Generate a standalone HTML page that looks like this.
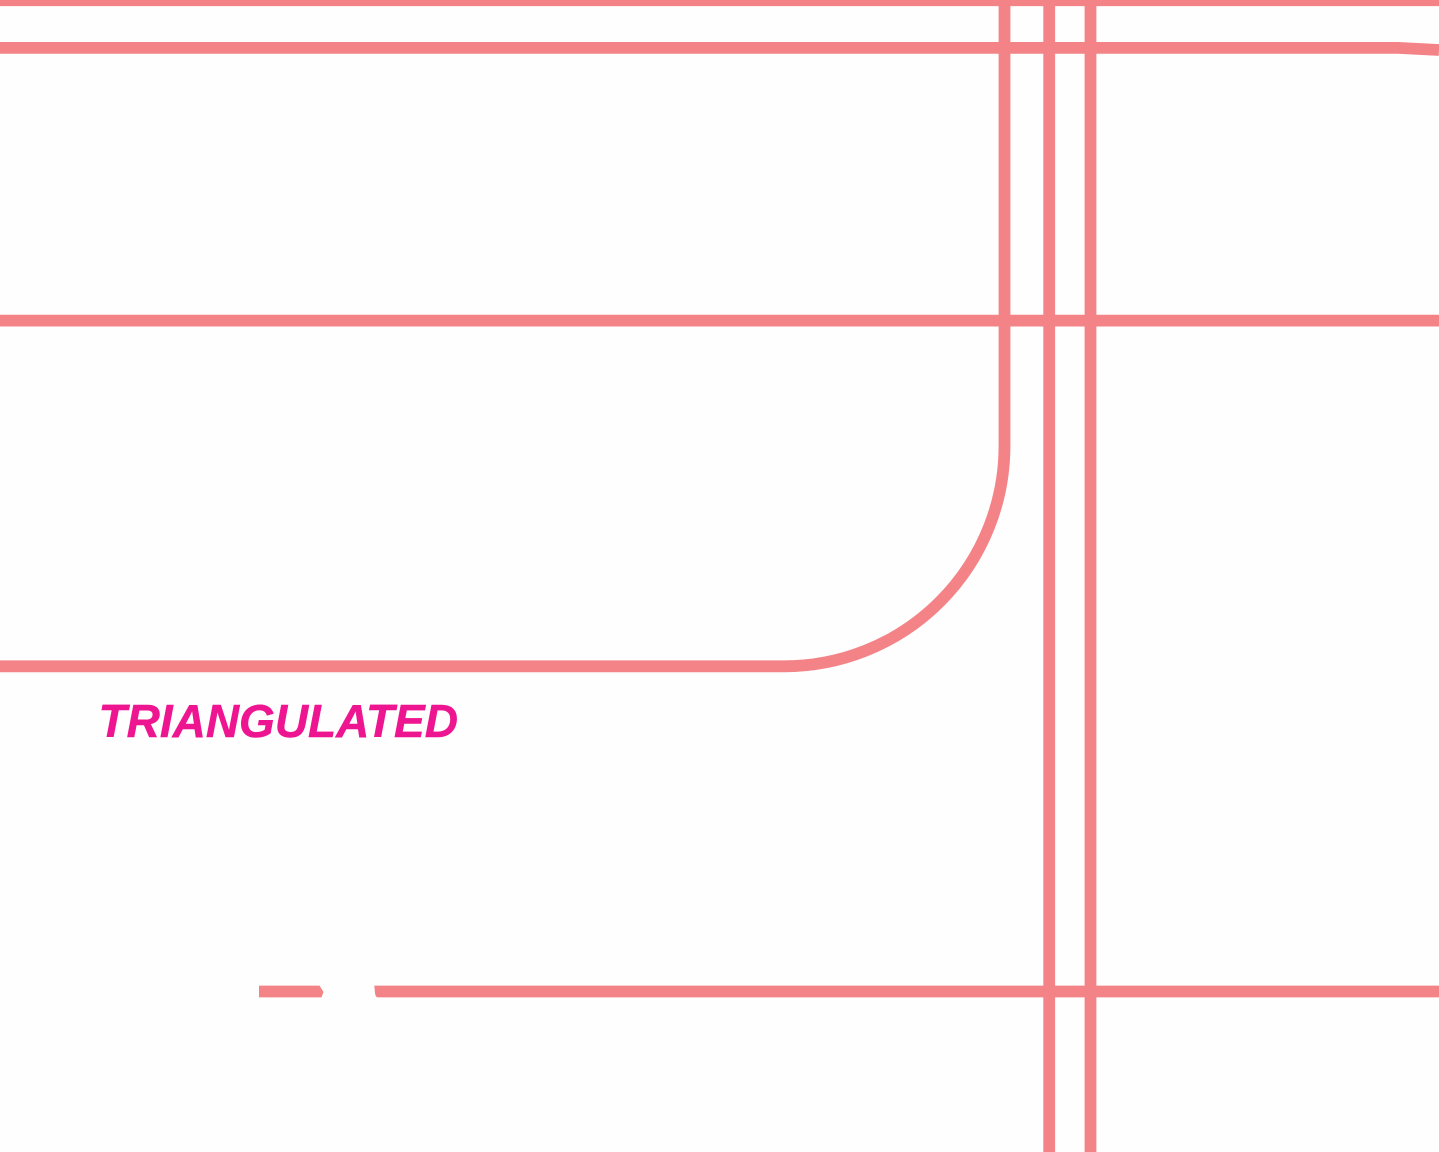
<!DOCTYPE html>
<html>
<head>
<meta charset="utf-8">
<style>
html,body{margin:0;padding:0;background:#fefefe;width:1439px;height:1152px;overflow:hidden}
svg{display:block}
</style>
</head>
<body>
<svg width="1439" height="1152" viewBox="0 0 1439 1152" xmlns="http://www.w3.org/2000/svg">
<rect width="1439" height="1152" fill="#fefefe"/>
<g fill="none" stroke="#f48387" stroke-width="11.8">
<path d="M0 0.2H1439"/>
<path d="M0 47.9H1398L1439 50"/>
<path d="M0 320.6H1439"/>
<path d="M1004.5 0V445A220.500 220.500 0 0 1 784 666.300H0"/>
<path d="M1049.200 0V1152"/>
<path d="M1090.500 0V1152"/>
</g>
<polygon fill="#f48387" points="259,985.600 319.500,985.600 323.500,992 321.500,997.400 259,997.400"/>
<path fill="#f48387" d="M374.300 985.600H1439V997.400H378Q375.500 997.400 375 993Z"/>
<text x="98.500" y="737" font-family="'Liberation Sans',sans-serif" font-weight="700" font-style="italic" font-size="46" fill="#ee1590" stroke="#ee1590" stroke-width="0.5">TRIANGULATED</text>
</svg>
</body>
</html>
